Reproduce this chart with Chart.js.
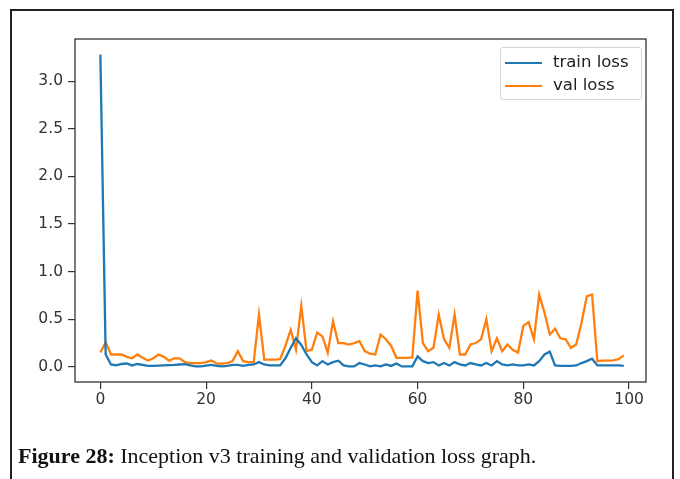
<!doctype html>
<html>
	<head>
		<title>Inception v3 loss</title>
		<script src="https://cdn.jsdelivr.net/npm/chart.js@4/dist/chart.umd.min.js"></script>
		<style>
			html, body {
				margin: 0;
				padding: 0;
				background: #fff;
				width: 680px;
				height: 479px;
				overflow: hidden;
			}
			#frame {
				position: absolute;
				left: 10px;
				top: 9px;
				width: 660px;
				height: 480px;
				border: 2px solid #222;
				border-bottom: none;
			}
			#wrap {
				position: absolute;
				left: 0;
				top: 0;
			}
			#legend {
				position: absolute;
				left: 500px;
				top: 47px;
				width: 140px;
				height: 51px;
				border: 1px solid #d6d6d6;
				border-radius: 3px;
				background: rgba(255, 255, 255, 0.8);
				font-family: "DejaVu Sans", sans-serif;
				font-size: 16.5px;
				color: #222;
			}
			#legend div {
				position: absolute;
				left: 4px;
				height: 22px;
				line-height: 22px;
				white-space: nowrap;
			}
			#legend i {
				display: inline-block;
				width: 37px;
				height: 2px;
				vertical-align: middle;
				margin-right: 11px;
			}
			#caption {
				position: absolute;
				left: 18px;
				top: 443px;
				font-family: "Liberation Serif", "DejaVu Serif", serif;
				font-size: 22px;
				line-height: 26px;
				color: #111;
				white-space: nowrap;
			}
		</style>
	</head>
	<body>
		<div id="frame"></div>
		<div id="wrap"><canvas id="canvas" width="680" height="479"></canvas></div>
		<div id="legend"></div>
		<div id="caption"><b>Figure 28:</b> Inception v3 training and validation loss graph.</div>

		<script>
			var epochs = [];
			for (var e = 0; e < 100; e++) epochs.push(e);

			var trainLoss = [
				3.28, 0.13, 0.025, 0.015, 0.03, 0.035, 0.015, 0.03, 0.02, 0.01,
				0.01, 0.012, 0.015, 0.018, 0.02, 0.025, 0.028, 0.015, 0.005, 0.005,
				0.012, 0.02, 0.01, 0.005, 0.01, 0.02, 0.02, 0.01, 0.02, 0.025,
				0.05, 0.025, 0.015, 0.015, 0.015, 0.09, 0.2, 0.3, 0.23, 0.13,
				0.05, 0.015, 0.06, 0.025, 0.05, 0.065, 0.015, 0.005, 0.005, 0.04,
				0.025, 0.005, 0.015, 0.005, 0.025, 0.01, 0.035, 0.005, 0.005, 0.005,
				0.11, 0.06, 0.04, 0.05, 0.015, 0.04, 0.015, 0.05, 0.025, 0.015,
				0.04, 0.025, 0.015, 0.04, 0.015, 0.06, 0.025, 0.015, 0.025, 0.015,
				0.015, 0.025, 0.015, 0.06, 0.13, 0.16, 0.015, 0.01, 0.01, 0.01,
				0.015, 0.04, 0.06, 0.085, 0.015, 0.015, 0.015, 0.015, 0.015, 0.01
			];

			var valLoss = [
				0.15, 0.26, 0.13, 0.13, 0.13, 0.105, 0.09, 0.13, 0.095, 0.066,
				0.09, 0.13, 0.105, 0.066, 0.09, 0.09, 0.05, 0.04, 0.04, 0.04,
				0.05, 0.066, 0.035, 0.035, 0.04, 0.06, 0.165, 0.06, 0.05, 0.05,
				0.55, 0.077, 0.077, 0.077, 0.08, 0.22, 0.39, 0.18, 0.64, 0.165,
				0.18, 0.36, 0.32, 0.15, 0.48, 0.25, 0.25, 0.235, 0.25, 0.27,
				0.165, 0.14, 0.13, 0.34, 0.29, 0.22, 0.095, 0.095, 0.095, 0.1,
				0.8, 0.25, 0.165, 0.2, 0.55, 0.29, 0.2, 0.55, 0.13, 0.13,
				0.235, 0.25, 0.29, 0.5, 0.165, 0.3, 0.165, 0.235, 0.18, 0.15,
				0.43, 0.47, 0.29, 0.76, 0.57, 0.34, 0.4, 0.3, 0.29, 0.2,
				0.235, 0.46, 0.74, 0.76, 0.06, 0.065, 0.065, 0.068, 0.08, 0.12
			];

			var xTicks = [0, 20, 40, 60, 80, 100];
			var yTicks = [0, 0.5, 1.0, 1.5, 2.0, 2.5, 3.0];
			var seriesNames = ['train loss', 'val loss'];
			var seriesColors = ['#1f77b4', '#ff7f0e'];

			function points(values) {
				return epochs.map(function(x, i) { return { x: x, y: values[i] }; });
			}

			// top and right spines, matplotlib style box
			var boxPlugin = {
				id: 'box',
				afterDatasetsDraw: function(chart) {
					var a = chart.chartArea, ctx = chart.ctx;
					ctx.save();
					ctx.strokeStyle = '#333';
					ctx.lineWidth = 1.3;
					ctx.strokeRect(a.left, a.top, a.right - a.left, a.bottom - a.top);
					ctx.restore();
				}
			};

			var tickFont = { family: '"DejaVu Sans", sans-serif', size: 15.5 };

			new Chart(document.getElementById('canvas').getContext('2d'), {
				type: 'line',
				data: {
					datasets: [
						{ label: seriesNames[0], data: points(trainLoss), borderColor: seriesColors[0], borderWidth: 2.3, pointRadius: 0, tension: 0 },
						{ label: seriesNames[1], data: points(valLoss), borderColor: seriesColors[1], borderWidth: 2.3, pointRadius: 0, tension: 0 }
					]
				},
				options: {
					responsive: false,
					animation: false,
					layout: { padding: { left: 0, top: 39, right: 34, bottom: 57 } },
					plugins: { legend: { display: false }, tooltip: { enabled: false } },
					scales: {
						x: {
							type: 'linear',
							min: -4.8,
							max: 103.2,
							afterBuildTicks: function(s) { s.ticks = xTicks.map(function(v) { return { value: v }; }); },
							afterFit: function(s) { s.height = 40; },
							grid: { drawOnChartArea: false, drawTicks: true, tickLength: 7, color: '#333', lineWidth: 1.2 },
							border: { display: false },
							ticks: { font: tickFont, color: '#333', padding: 2, maxRotation: 0 }
						},
						y: {
							min: -0.159,
							max: 3.444,
							afterBuildTicks: function(s) { s.ticks = yTicks.map(function(v) { return { value: v }; }); },
							afterFit: function(s) { s.width = 75; },
							grid: { drawOnChartArea: false, drawTicks: true, tickLength: 7, color: '#333', lineWidth: 1.2 },
							border: { display: false },
							ticks: { font: tickFont, color: '#333', padding: 5, callback: function(v) { return v.toFixed(1); } }
						}
					}
				},
				plugins: [boxPlugin]
			});

			var legend = document.getElementById('legend');
			seriesNames.forEach(function(name, i) {
				var row = document.createElement('div');
				row.style.top = (3 + i * 23) + 'px';
				row.innerHTML = '<i style="background:' + seriesColors[i] + '"></i>' + name;
				legend.appendChild(row);
			});
		</script>
	</body>
</html>
